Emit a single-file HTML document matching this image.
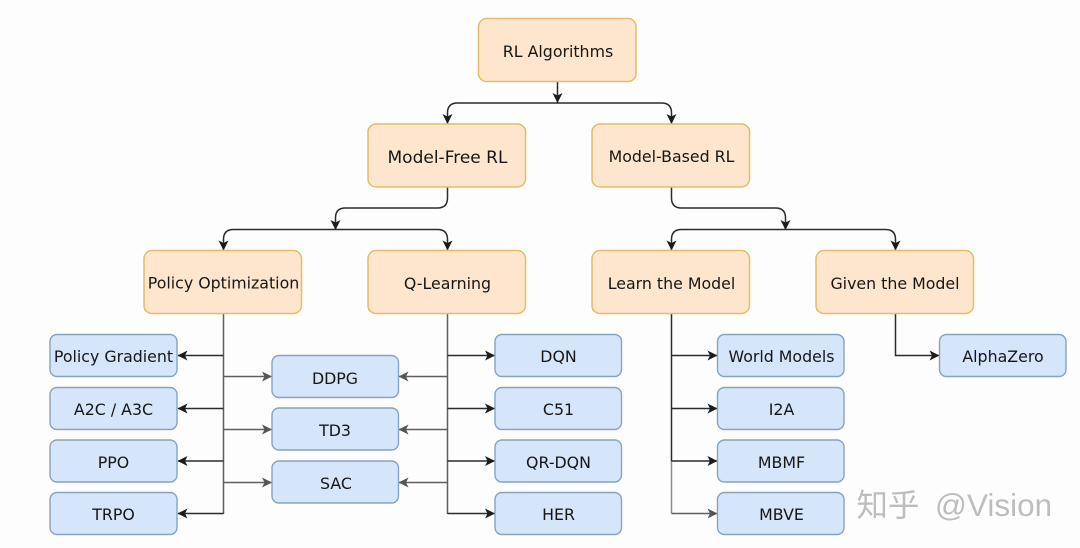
<!DOCTYPE html>
<html lang="en">
<head>
<meta charset="utf-8">
<title>RL Algorithms</title>
<style>
html,body{margin:0;padding:0;background:#fdfdfd;width:1080px;height:548px;overflow:hidden}
svg{display:block;filter:blur(.3px)}
text{font-family:"DejaVu Sans","Liberation Sans",sans-serif;font-size:15.8px;fill:#161616;text-anchor:middle}
.o{fill:#fde6cd;stroke:#e5bb66;stroke-width:1.5}
.b{fill:#d5e5fa;stroke:#87a3c0;stroke-width:1.4}
.l{fill:none;stroke:#2b2b2b;stroke-width:1.5}
.g{fill:none;stroke:#5e5e5e;stroke-width:1.5}
.wm{font-family:"Liberation Sans","Noto Sans CJK SC",sans-serif;font-size:31.5px;fill:#bdbdbd;text-anchor:start}
</style>
</head>
<body>
<svg width="1080" height="548" viewBox="0 0 1080 548" xmlns="http://www.w3.org/2000/svg">
<defs>
<marker id="a" viewBox="0 0 10 10" refX="9.5" refY="5" markerWidth="10" markerHeight="10" markerUnits="userSpaceOnUse" orient="auto"><path d="M0 0L10 5L0 10L2.5 5Z" fill="#1c1c1c"/></marker>
<marker id="h" viewBox="0 0 10 10" refX="9.5" refY="5" markerWidth="10" markerHeight="10" markerUnits="userSpaceOnUse" orient="auto"><path d="M0 0L10 5L0 10L2.5 5Z" fill="#555"/></marker>
</defs>

<!-- tree connectors -->
<path class="l" d="M557.500 81V102.500" marker-end="url(#a)"/>
<path class="l" d="M557.500 103H457.500Q447.500 103 447.500 113V123.500" marker-end="url(#a)"/>
<path class="l" d="M557.500 103H661.500Q671.500 103 671.500 113V123.500" marker-end="url(#a)"/>
<path class="l" d="M447.500 187V198Q447.500 208 437.500 208H345.500Q335.500 208 335.500 218V229.500" marker-end="url(#a)"/>
<path class="l" d="M335.500 229.500H233.500Q223.500 229.500 223.500 239.500V250" marker-end="url(#a)"/>
<path class="l" d="M335.500 229.500H437.500Q447.500 229.500 447.500 239.500V250" marker-end="url(#a)"/>
<path class="l" d="M671.500 187V198Q671.500 208 681.500 208H775.500Q785.500 208 785.500 218V229.500" marker-end="url(#a)"/>
<path class="l" d="M785.500 229.500H681.500Q671.500 229.500 671.500 239.500V250" marker-end="url(#a)"/>
<path class="l" d="M785.500 229.500H885.500Q895.500 229.500 895.500 239.500V250" marker-end="url(#a)"/>

<!-- policy optimization -->
<path class="g" d="M223.500 314V514"/>
<path class="l" d="M223.500 355.500H178" marker-end="url(#a)"/>
<path class="l" d="M223.500 408.500H178" marker-end="url(#a)"/>
<path class="l" d="M223.500 461H178" marker-end="url(#a)"/>
<path class="l" d="M223.500 513.500H178" marker-end="url(#a)"/>
<path class="g" d="M223.500 376.500H271.500" marker-end="url(#h)"/>
<path class="g" d="M223.500 429.500H271.500" marker-end="url(#h)"/>
<path class="g" d="M223.500 482.500H271.500" marker-end="url(#h)"/>

<!-- q-learning -->
<path class="g" d="M447.500 314V514"/>
<path class="l" d="M447.500 355.500H494.500" marker-end="url(#a)"/>
<path class="l" d="M447.500 408.500H494.500" marker-end="url(#a)"/>
<path class="l" d="M447.500 461H494.500" marker-end="url(#a)"/>
<path class="l" d="M447.500 513.500H494.500" marker-end="url(#a)"/>
<path class="g" d="M447.500 376.500H399" marker-end="url(#h)"/>
<path class="g" d="M447.500 429.500H399" marker-end="url(#h)"/>
<path class="g" d="M447.500 482.500H399" marker-end="url(#h)"/>

<!-- learn the model -->
<path class="l" d="M671.500 314V461"/>
<path class="g" d="M671.500 461V513.500" style="stroke:#8a8a8a"/>
<path class="l" d="M671.500 355.500H717" marker-end="url(#a)"/>
<path class="l" d="M671.500 408.500H717" marker-end="url(#a)"/>
<path class="l" d="M671.500 461H717" marker-end="url(#a)"/>
<path class="g" d="M671.500 513.500H717" marker-end="url(#h)"/>

<!-- given the model -->
<path class="l" d="M895.500 314V355.500H939" marker-end="url(#a)"/>

<!-- orange nodes -->
<rect class="o" x="478.500" y="18.500" width="157.500" height="63" rx="8"/>
<rect class="o" x="368" y="124" width="157.500" height="63" rx="8"/>
<rect class="o" x="592" y="124" width="157.500" height="63" rx="8"/>
<rect class="o" x="144" y="250.500" width="157.500" height="63" rx="8"/>
<rect class="o" x="368" y="250.500" width="157.500" height="63" rx="8"/>
<rect class="o" x="592" y="250.500" width="157.500" height="63" rx="8"/>
<rect class="o" x="816" y="250.500" width="157.500" height="63" rx="8"/>

<text x="558" y="57">RL Algorithms</text>
<text x="447.500" y="163" style="font-size:17px">Model-Free RL</text>
<text x="671.500" y="162">Model-Based RL</text>
<text x="223.500" y="288.500">Policy Optimization</text>
<text x="447.500" y="289">Q-Learning</text>
<text x="671.500" y="289">Learn the Model</text>
<text x="895" y="289">Given the Model</text>

<!-- blue nodes -->
<rect class="b" x="50" y="334.500" width="127" height="42" rx="7"/>
<rect class="b" x="50" y="387.500" width="127" height="42" rx="7"/>
<rect class="b" x="50" y="440" width="127" height="42" rx="7"/>
<rect class="b" x="50" y="492.500" width="127" height="42" rx="7"/>
<rect class="b" x="272" y="355.500" width="126.500" height="42" rx="7"/>
<rect class="b" x="272" y="408" width="126.500" height="42" rx="7"/>
<rect class="b" x="272" y="461" width="126.500" height="42" rx="7"/>
<rect class="b" x="495" y="334.500" width="126.500" height="42" rx="7"/>
<rect class="b" x="495" y="387.500" width="126.500" height="42" rx="7"/>
<rect class="b" x="495" y="440" width="126.500" height="42" rx="7"/>
<rect class="b" x="495" y="492.500" width="126.500" height="42" rx="7"/>
<rect class="b" x="717.500" y="334.500" width="126.500" height="42" rx="7"/>
<rect class="b" x="717.500" y="387.500" width="126.500" height="42" rx="7"/>
<rect class="b" x="717.500" y="440" width="126.500" height="42" rx="7"/>
<rect class="b" x="717.500" y="492.500" width="126.500" height="42" rx="7"/>
<rect class="b" x="939.500" y="334.500" width="126.500" height="42" rx="7"/>

<text x="113.500" y="362">Policy Gradient</text>
<text x="113.500" y="415">A2C / A3C</text>
<text x="113.500" y="468">PPO</text>
<text x="113.500" y="520">TRPO</text>
<text x="335" y="384">DDPG</text>
<text x="335" y="436">TD3</text>
<text x="336" y="489">SAC</text>
<text x="558.500" y="362">DQN</text>
<text x="558.500" y="415">C51</text>
<text x="558.500" y="468">QR-DQN</text>
<text x="558.500" y="520">HER</text>
<text x="781.500" y="362">World Models</text>
<text x="781.500" y="415">I2A</text>
<text x="781.500" y="468">MBMF</text>
<text x="781.500" y="520">MBVE</text>
<text x="1003" y="362">AlphaZero</text>

<!-- watermark -->
<text class="wm" x="857.500" y="517" style="fill:#fff;stroke:#fff;stroke-width:.5" >知乎</text>
<text class="wm" x="936" y="517" style="fill:#fff;stroke:#fff;stroke-width:.5">@Vision</text>
<text class="wm" x="856.500" y="516">知乎</text>
<text class="wm" x="935" y="516">@Vision</text>
</svg>
</body>
</html>
